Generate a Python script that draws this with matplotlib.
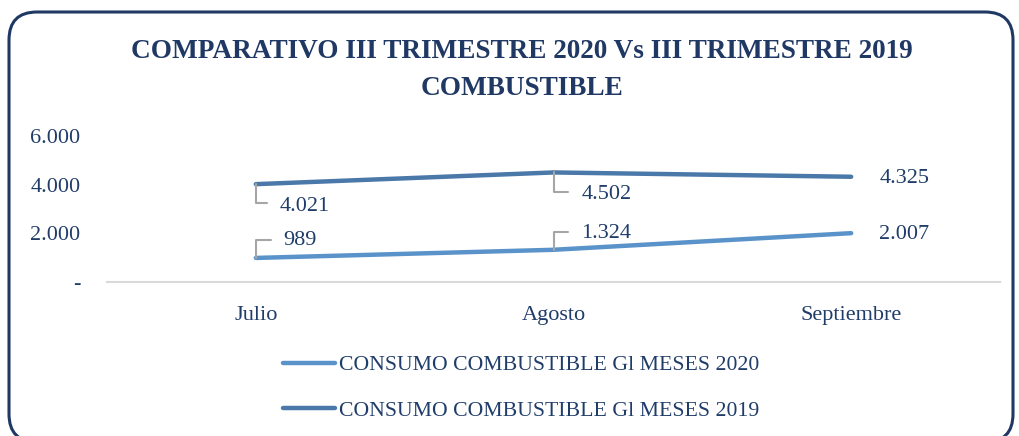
import matplotlib.pyplot as plt
from matplotlib.patches import FancyBboxPatch

months = ['Julio', 'Agosto', 'Septiembre']
gl_2020 = [989, 1324, 2007]
gl_2019 = [4021, 4502, 4325]
yticks = [0, 2000, 4000, 6000]
label_2020 = 'CONSUMO COMBUSTIBLE Gl MESES 2020'
label_2019 = 'CONSUMO COMBUSTIBLE Gl MESES 2019'
title = 'COMPARATIVO III TRIMESTRE 2020 Vs III TRIMESTRE 2019\nCOMBUSTIBLE'

navy = '#1F3864'
txt = '#203D6A'
c2020 = '#5A93CA'
c2019 = '#4A78A9'
gray = '#A6A6A6'
plt.rcParams['font.family'] = ['Liberation Serif', 'DejaVu Serif']


def fmt(v):
    return '-' if v == 0 else f'{v:,}'.replace(',', '.')


fig = plt.figure(figsize=(10.19, 4.36), dpi=100)

# background frame in pixel coordinates
bg = fig.add_axes([0, 0, 1, 1])
bg.set_xlim(0, 1019)
bg.set_ylim(0, 436)
bg.axis('off')
bg.add_patch(FancyBboxPatch((9, -6), 1004, 430, boxstyle='round,pad=0,rounding_size=28',
                            fc='white', ec=navy, lw=2.2))
bg.text(522, 436 - 70, title, ha='center', va='center', fontsize=19.6, fontweight='bold',
        color=navy, linespacing=1.6)

ax = fig.add_axes([107 / 1019, 154 / 436, 893 / 1019, 146 / 436])
x = range(len(months))
l1, = ax.plot(x, gl_2020, color=c2020, lw=3.2, solid_capstyle='round', label=label_2020)
l2, = ax.plot(x, gl_2019, color=c2019, lw=3.2, solid_capstyle='round', label=label_2019)
ax.set_xlim(-0.5, 2.5)
ax.set_ylim(0, 6000)
ax.set_xticks(list(x))
ax.set_xticklabels(months)
ax.set_yticks(yticks)
ax.set_yticklabels([fmt(v) for v in yticks])
ax.tick_params(length=0, labelsize=16, labelcolor=txt)
ax.tick_params(axis='y', pad=19)
ax.tick_params(axis='x', pad=17)
for s in ['top', 'right', 'left']:
    ax.spines[s].set_visible(False)
ax.spines['bottom'].set_color('#D9D9D9')
ax.spines['bottom'].set_linewidth(1.5)

# data labels: (leader end offset or None, text offset) in pixels
lab_2019 = [((11, -19), (24, -22)), ((14, -20), (28, -22)), (None, (28, -2))]
lab_2020 = [((15, 18), (27, 17)), ((14, 18), (28, 16)), (None, (28, -1))]
for vals, labs in [(gl_2019, lab_2019), (gl_2020, lab_2020)]:
    for i, (v, (lead, toff)) in enumerate(zip(vals, labs)):
        if lead is not None:
            ax.annotate('', xy=(i, v), xytext=lead, textcoords='offset pixels',
                        arrowprops=dict(arrowstyle='-', color=gray, lw=1.5, shrinkA=0, shrinkB=0,
                                        connectionstyle='angle,angleA=0,angleB=90,rad=0'))
        ax.annotate(fmt(v), xy=(i, v), xytext=toff, textcoords='offset pixels',
                    ha='left', va='center', fontsize=16, color=txt)

fig.legend(handles=[l1, l2], loc='upper left', bbox_to_anchor=(283 / 1019, 1 - 355 / 436),
           frameon=False, fontsize=15.7, handlelength=2.4, handletextpad=0.15,
           labelspacing=1.15, labelcolor=txt, borderpad=0, borderaxespad=0)

fig.savefig('out.png', dpi=100)
